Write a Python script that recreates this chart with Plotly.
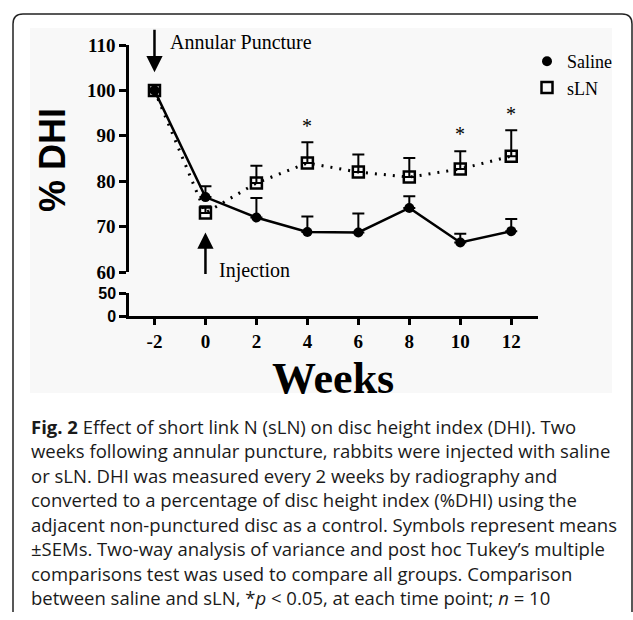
import plotly.graph_objects as go

# ---------------- data ----------------
weeks = [-2, 0, 2, 4, 6, 8, 10, 12]
saline = [100, 76.5, 72.0, 68.8, 68.7, 74.1, 66.5, 69.0]
saline_sem = [0, 2.4, 4.3, 3.4, 4.2, 2.6, 1.9, 2.7]
sln = [100, 73.0, 79.6, 84.0, 82.0, 80.9, 82.7, 85.5]
sln_sem = [0, 1.5, 3.8, 4.6, 3.9, 4.2, 3.9, 5.7]
star_weeks = [4, 10, 12]
star_y = [92.1, 90.5, 94.7]
upper_ticks = [60, 70, 80, 90, 100, 110]
lower_ticks = [0, 50]
x_ticks = [-2, 0, 2, 4, 6, 8, 10, 12]
x_ticktext = ["-2", "0", "2", "4", "6", "8", "10", "12"]

caption_lines = [
    "<b>Fig. 2</b> Effect of short link N (sLN) on disc height index (DHI). Two",
    "weeks following annular puncture, rabbits were injected with saline",
    "or sLN. DHI was measured every 2 weeks by radiography and",
    "converted to a percentage of disc height index (%DHI) using the",
    "adjacent non-punctured disc as a control. Symbols represent means",
    "±SEMs. Two-way analysis of variance and post hoc Tukey’s multiple",
    "comparisons test was used to compare all groups. Comparison",
    "between saline and sLN, *<i>p</i> &lt; 0.05, at each time point; <i>n</i> = 10",
]

# ---------------- layout geometry ----------------
W, H = 633, 620
L, R, T, B = 129, 95, 45, 304
PW, PH = W - L - R, H - T - B


def px(xp):
    return (xp - L) / PW


def py(yp):
    return (H - B - yp) / PH


SERIF = "Liberation Serif"
SANS = "Liberation Sans"

fig = go.Figure()

fig.add_trace(go.Scatter(
    x=weeks, y=sln, mode="lines+markers", showlegend=False,
    line=dict(color="black", width=3, dash="2px,7px"),
    marker=dict(symbol="square-open", size=11, color="black", line=dict(width=2.5, color="black")),
    error_y=dict(type="data", symmetric=False, array=sln_sem, arrayminus=[0] * len(sln),
                 color="black", thickness=2, width=6),
))
fig.add_trace(go.Scatter(
    x=weeks, y=saline, mode="lines+markers", showlegend=False,
    line=dict(color="black", width=2.5),
    marker=dict(symbol="circle", size=10, color="black"),
    error_y=dict(type="data", symmetric=False, array=saline_sem, arrayminus=[0] * len(saline),
                 color="black", thickness=2, width=6),
))
# empty trace so the lower (broken) axis segment is drawn
fig.add_trace(go.Scatter(x=[None], y=[None], xaxis="x", yaxis="y2", mode="markers",
                         showlegend=False, hoverinfo="skip"))
# legend-only traces
fig.add_trace(go.Scatter(x=[None], y=[None], mode="markers", name="Saline",
                         marker=dict(symbol="circle", size=10, color="black")))
fig.add_trace(go.Scatter(x=[None], y=[None], mode="markers", name="sLN",
                         marker=dict(symbol="square-open", size=11, color="black",
                                     line=dict(width=2.5, color="black"))))

annotations = []
for xs, ys in zip(star_weeks, star_y):
    annotations.append(dict(x=xs, y=ys, xref="x", yref="y", text="*", showarrow=False,
                            font=dict(family=SERIF, size=20, color="black")))

# arrows
annotations.append(dict(x=-2, y=104.0, xref="x", yref="y", ax=0, ay=-44, text="",
                        showarrow=True, arrowhead=2, arrowsize=1.3, arrowwidth=2.5,
                        arrowcolor="black", standoff=0))
annotations.append(dict(x=0, y=68.7, xref="x", yref="y", ax=0, ay=43, text="",
                        showarrow=True, arrowhead=2, arrowsize=1.3, arrowwidth=2.5,
                        arrowcolor="black", standoff=0))
annotations.append(dict(x=px(168), y=py(42), xref="paper", yref="paper", text="Annular Puncture",
                        showarrow=False, xanchor="left", yanchor="middle",
                        font=dict(family=SERIF, size=20, color="black")))
annotations.append(dict(x=px(217), y=py(270), xref="paper", yref="paper", text="Injection",
                        showarrow=False, xanchor="left", yanchor="middle",
                        font=dict(family=SERIF, size=20, color="black")))

# axis titles
annotations.append(dict(x=px(52), y=py(160), xref="paper", yref="paper", text="<b>% DHI</b>",
                        textangle=-90, showarrow=False, xanchor="center", yanchor="middle",
                        font=dict(family=SANS, size=36, color="black")))
annotations.append(dict(x=px(333), y=py(378), xref="paper", yref="paper", text="<b>Weeks</b>",
                        showarrow=False, xanchor="center", yanchor="middle",
                        font=dict(family=SERIF, size=44, color="black")))

# caption
for i, line in enumerate(caption_lines):
    annotations.append(dict(x=px(29), y=py(426 + i * 24.5), xref="paper", yref="paper", text=line,
                            showarrow=False, xanchor="left", yanchor="middle",
                            font=dict(family="Open Sans", size=18.5, color="#1a1a1a")))

shapes = [
    # faint background of the figure image
    dict(type="rect", xref="paper", yref="paper", x0=px(30), x1=px(612), y0=py(393), y1=py(28),
         fillcolor="#f8f8f8", line=dict(width=0), layer="below"),
    # rounded frame
    dict(type="path", xref="paper", yref="paper",
         path=(f"M {px(13)} {py(612)} L {px(13)} {py(24)} Q {px(13)} {py(14)} {px(23)} {py(14)} "
               f"L {px(622)} {py(14)} Q {px(632)} {py(14)} {px(632)} {py(24)} L {px(632)} {py(612)}"),
         line=dict(color="#222222", width=1.5)),
]

fig.update_layout(
    width=W, height=H,
    margin=dict(l=L, r=R, t=T, b=B),
    paper_bgcolor="white", plot_bgcolor="rgba(0,0,0,0)",
    showlegend=True,
    legend=dict(x=px(527), y=py(43), xanchor="left", yanchor="top", bgcolor="rgba(0,0,0,0)",
                font=dict(family=SERIF, size=18, color="black"), itemwidth=30,
                tracegroupgap=0),
    xaxis=dict(range=[-3, 13.05], anchor="y2", tickvals=x_ticks, ticktext=x_ticktext,
               showline=True, linecolor="black",
               linewidth=2.5, ticks="outside", ticklen=6, tickwidth=2.5, tickcolor="black",
               showgrid=False, zeroline=False,
               tickfont=dict(family=SERIF, size=19, color="black", weight="bold")),
    yaxis=dict(domain=[44 / PH, 1], range=[60, 110], tickvals=upper_ticks, showline=True,
               linecolor="black", linewidth=2.5, ticks="outside", ticklen=7, tickwidth=2.5,
               tickcolor="black", showgrid=False, zeroline=False, anchor="x",
               tickfont=dict(family=SERIF, size=19, color="black", weight="bold")),
    yaxis2=dict(domain=[0, 23 / PH], range=[0, 50], tickvals=lower_ticks, showline=True,
                linecolor="black", linewidth=2.5, ticks="outside", ticklen=7, tickwidth=2.5,
                tickcolor="black", showgrid=False, zeroline=False, anchor="x",
                tickfont=dict(family=SANS, size=16, color="black", weight="bold")),
    annotations=annotations,
    shapes=shapes,
)

fig.write_html("out.html", config={"displayModeBar": False},
               post_script="document.body.style.margin='0';")
